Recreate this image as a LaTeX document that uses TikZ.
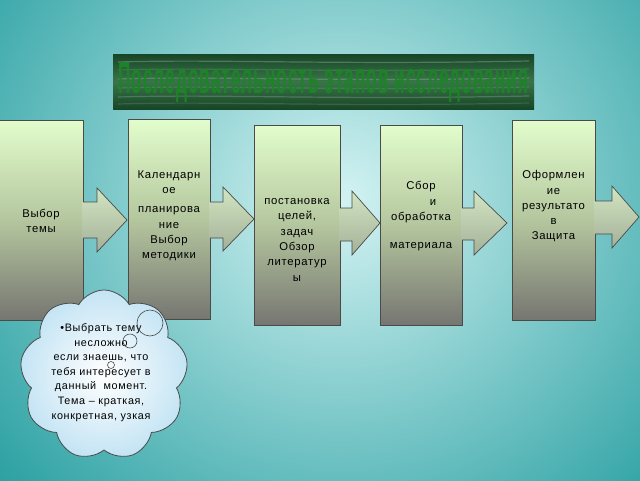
\documentclass[tikz,border=0pt]{standalone}
\usepackage{fontspec}
\setmainfont{Liberation Sans}[LetterSpace=6]
\usetikzlibrary{shapes.symbols,calc}
\definecolor{bgin}{HTML}{D4F3F3}
\definecolor{bgout}{HTML}{1E9A9C}
\definecolor{boxtop}{HTML}{E2FDCC}
\definecolor{boxmid}{HTML}{B4C69E}
\definecolor{boxbot}{HTML}{767671}
\definecolor{edge}{HTML}{4A4A48}
\definecolor{arrtop}{HTML}{D2E6C2}
\definecolor{arrbot}{HTML}{A4B098}
\definecolor{bandark}{HTML}{174526}
\definecolor{banmid}{HTML}{3A744A}
\definecolor{titlegreen}{HTML}{1D8228}
\definecolor{cloudout}{HTML}{C4E4F4}
\tikzset{
  stagebox/.style={draw=edge, line width=0.7pt, top color=boxtop, bottom color=boxbot, middle color=boxmid, inner sep=0pt, minimum width=#1, minimum height=200pt},
  stagetext/.style={font=\fontsize{11.3}{15.3}\selectfont, align=center, text=black},
  blockarrowfill/.style={top color=arrtop, bottom color=arrbot, draw=none},
  blockarrowline/.style={draw=edge, line width=0.7pt, line join=miter},
  thought/.style={cloud, cloud puffs=9, cloud puff arc=120, aspect=1, draw=edge, line width=0.8pt, inner color=white, outer color=cloudout, minimum width=168pt, minimum height=170pt, inner sep=0pt},
  bubble/.style={draw=edge, line width=0.6pt}
}
\newcommand{\blockarrow}[7]{%
  \path[blockarrowfill] (#1-1,#5) -- (#2,#5) -- (#2,#7) -- (#3,#4) -- (#2,2*#4-#7) -- (#2,#6) -- (#1-1,#6) -- cycle;
  \draw[blockarrowline] (#1,#5) -- (#2,#5) -- (#2,#7) -- (#3,#4) -- (#2,2*#4-#7) -- (#2,#6) -- (#1,#6);
}
\begin{document}
\begin{tikzpicture}[x=1pt,y=-1pt]
\useasboundingbox (0,0) rectangle (640,480);
\begin{scope}
\clip (0,0) rectangle (640,480);
\fill[bgout] (0,0) rectangle (640,480);
\shade[inner color=bgin, outer color=bgout] (-150,-260) rectangle (830,660);
\end{scope}
% banner
\shade[top color=bandark, bottom color=bandark, middle color=banmid] (113,54) rectangle (534,109);
\foreach \yy/\op in {62/0.22,70/0.12,79/0.18,88/0.12,97/0.18,104/0.12}{
  \draw[white, opacity=\op, line width=1.2pt] (118,\yy) .. controls (220,\yy-3) and (330,\yy+3) .. (529,\yy-1);
}
\node[text=titlegreen, inner sep=0pt] (title) at (323.5,82) {\resizebox*{410pt}{40pt}{\bfseries Последовательность этапов исследования}};
% boxes
\node[stagebox=84pt] (b1) at (41,220) {};
\node[stagebox=82pt] (b2) at (169,219.5) {};
\node[stagebox=86pt] (b3) at (297,225) {};
\node[stagebox=82pt] (b4) at (421,225) {};
\node[stagebox=83pt] (b5) at (553.5,220) {};
% arrows
\blockarrow{83}{97}{127}{220}{202}{238}{188}
\blockarrow{210}{223}{254}{219}{202}{238}{187}
\blockarrow{340}{352}{380}{223}{208}{241}{191}
\blockarrow{462}{474}{507}{223}{208}{240}{191}
\blockarrow{595}{612}{639}{217}{201}{234}{186}
% box texts
\node[stagetext] (t1) at (b1.center |- 0,221) {Выбор\\темы};
\node[stagetext, anchor=north] (t2) at (169,167) {Календарн\\ое\\[4pt]планирова\\ние\\Выбор\\методики};
\node[stagetext, anchor=north] (t3) at (297,195) {постановка\\целей,\\задач\\Обзор\\литератур\\ы};
\node[stagetext, anchor=north] (t4) at (421,178) {Сбор\\\hspace*{24pt}и\\обработка\\[13pt]материала};
\node[stagetext, anchor=north] (t5) at (553.5,167) {Оформлен\\ие\\результато\\в\\Защита};
% cloud
\node[thought] (cl) at (104,375) {};
\node[stagetext, font=\fontsize{10.8}{14.6}\selectfont, anchor=north] (ct) at (101,320) {•Выбрать тему\\несложно\\если знаешь, что\\тебя интересует в\\данный \ момент.\\Тема – краткая,\\конкретная, узкая};
\draw[bubble] (150,323) circle (13);
\draw[bubble] (130,341) circle (7);
\draw[bubble] (111,365) circle (3.5);
\end{tikzpicture}
\end{document}
